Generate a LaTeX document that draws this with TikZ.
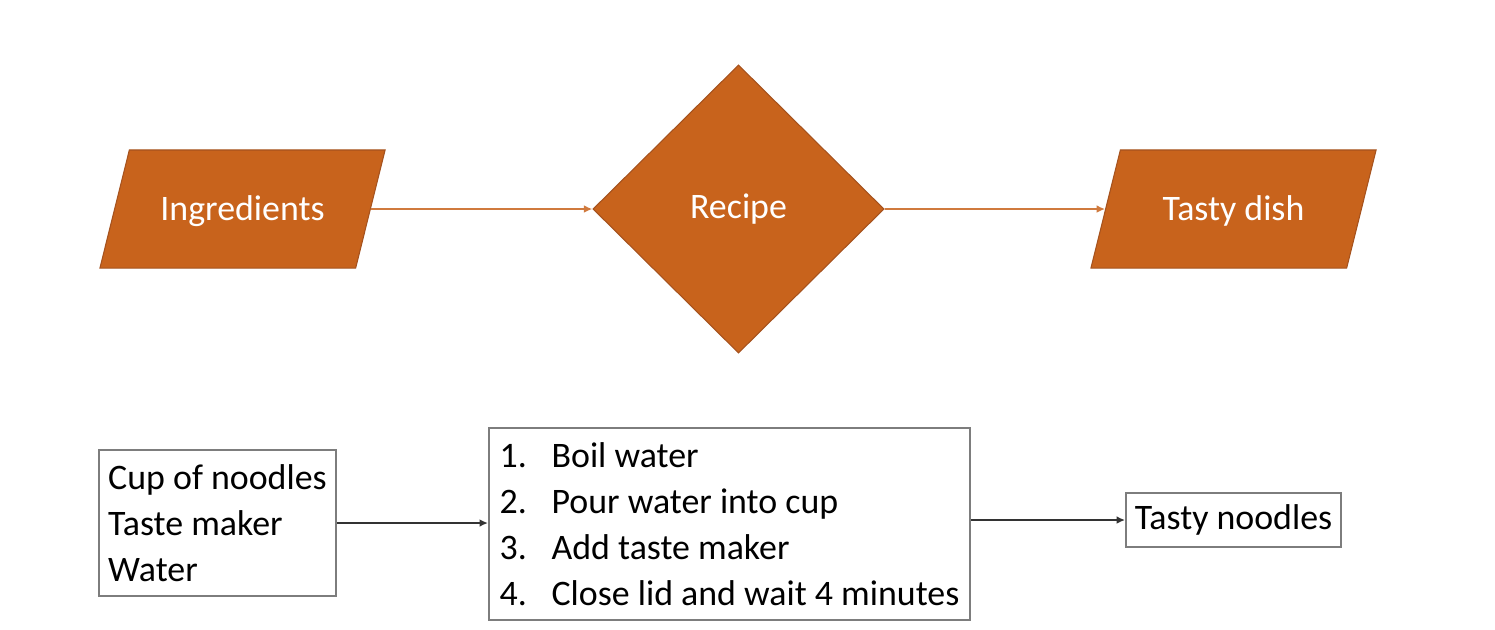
\documentclass[tikz,border=0pt]{standalone}
\usepackage{fontspec}
\setmainfont{Carlito}
\usetikzlibrary{shapes.geometric,arrows.meta}
\definecolor{dishorange}{RGB}{200,99,28}
\definecolor{dishedge}{RGB}{165,82,30}
\definecolor{boxgray}{RGB}{125,125,125}
\begin{document}
\begin{tikzpicture}[x=0.01cm,y=-0.01cm,
    font=\fontsize{10.2pt}{13.1pt}\selectfont,
    io/.style={trapezium, trapezium left angle=76, trapezium right angle=104,
        trapezium stretches body=true, minimum width=2.85cm,
        text height=0.28cm, text depth=0.05cm, inner xsep=0pt, inner ysep=0.425cm,
        fill=dishorange, draw=dishedge, line width=0.3pt, text=white},
    recipe/.style={diamond, aspect=1, minimum width=2.91cm, minimum height=2.88cm,
        fill=dishorange, draw=dishedge, line width=0.3pt, text=white, inner sep=0pt},
    textbox/.style={draw=boxgray, line width=0.5pt, align=left, inner sep=0pt},
    flow/.style={-{Latex[length=2.4pt,width=2.2pt]}, draw=dishorange!85, line width=0.5pt},
    plain/.style={-{Latex[length=2.4pt,width=2.2pt]}, draw=black!80, line width=0.6pt}]
    \useasboundingbox (0,0) rectangle (1495,629);
    % top row
    \node[io] (ingr) at (242.5,209) {Ingredients};
    \node[recipe] (rec) at (738.5,209) {Recipe};
    \node[io] (dish) at (1233.5,209) {Tasty dish};
    \draw[flow] (ingr.east) -- (rec.west);
    \draw[flow] (rec.east) -- (dish.west);
    % bottom row
    \node[textbox, minimum width=2.37cm, minimum height=1.46cm]
        (cup) at (217.5,523) {Cup of noodles\\Taste maker\\Water};
    \node[textbox, minimum width=4.81cm, minimum height=1.92cm]
        (steps) at (729.5,524) {%
        \makebox[0.52cm][l]{1.}Boil water\\
        \makebox[0.52cm][l]{2.}Pour water into cup\\
        \makebox[0.52cm][l]{3.}Add taste maker\\
        \makebox[0.52cm][l]{4.}Close lid and wait 4 minutes};
    \node[textbox, minimum width=2.15cm, minimum height=0.54cm]
        (noodles) at (1233.5,520) {Tasty noodles};
    \draw[plain] (cup.east) -- (cup.east -| steps.west);
    \draw[plain] (steps.east |- noodles.west) -- (noodles.west);
\end{tikzpicture}
\end{document}
